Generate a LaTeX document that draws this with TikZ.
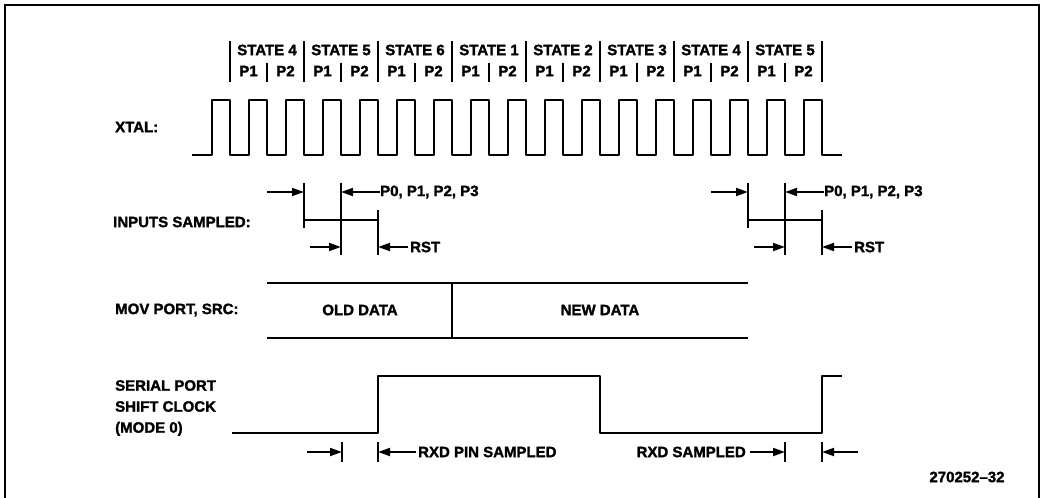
\documentclass[tikz,border=0pt]{standalone}
\usepackage{fontspec}
\setmainfont{Liberation Sans}
\newfontfamily\heavyfont{Liberation Sans}[BoldFeatures={FakeBold=1.6}]
\usepackage{tikz}
\usetikzlibrary{arrows.meta, positioning}

\begin{document}
\begin{tikzpicture}[
    x=1pt, y=-1pt,
    lbl/.style={font=\heavyfont\fontsize{15}{21}\selectfont\bfseries, inner sep=0pt},
    sig/.style={line width=2.8pt, line join=round},
    tick/.style={line width=1.6pt},
    darr/.style={-{Triangle[length=12pt,width=8pt]}, line width=1.8pt}
]
\useasboundingbox (0,0) rectangle (1042,498);
\draw[line width=2.2pt] (5,498) -- (5,5) -- (1039,5) -- (1039,498);

% state / phase header
\foreach \s [count=\k from 0] in {4,5,6,1,2,3,4,5}{
    \node[lbl] (S\k) at ({267+74*\k},50) {STATE \s};
    \node[lbl] (PA\k) at ({248.5+74*\k},71) {P1};
    \node[lbl] (PB\k) at ({285.5+74*\k},71) {P2};
    \draw[tick] ({230+74*\k},41) -- ({230+74*\k},82);
    \draw[tick] ({267+74*\k},63) -- ({267+74*\k},82);
}
\draw[tick] (822,41) -- (822,82);

\draw[sig] (192,155) \foreach \i in {0,...,16}{
    -- ({212+37*\i},155) -- ({212+37*\i},100) -- ({230+37*\i},100) -- ({230+37*\i},155)
} -- (842,155);

\node[lbl, anchor=west] (xtal) at (115,127) {XTAL:};
\node[lbl, anchor=west] (insmp) at (113,222) {INPUTS SAMPLED:};
\node[lbl, anchor=west] (movsrc) at (115,310) {MOV PORT, SRC:};
\node[lbl, anchor=west, align=left] (spclk) at (115,408) {SERIAL PORT\\SHIFT CLOCK\\(MODE 0)};

% sampling windows
\foreach \x/\g in {304/1,748/2}{
    \draw[tick] (\x,183) -- (\x,228);
    \draw[tick] (\x+37,183) -- (\x+37,255);
    \draw[tick] (\x+74,210) -- (\x+74,255);
    \draw[sig] (\x,220) -- (\x+74,220);
    \node[lbl, anchor=west] (pp\g) at (\x+76,192) {P0, P1, P2, P3};
    \node[lbl, anchor=west] (rst\g) at (\x+106,247) {RST};
    \draw[darr] (pp\g.west) -- (\x+37,192);
    \draw[darr] ([xshift=-2pt]rst\g.west) -- (\x+74,247);
    \draw[darr] (\x-37,192) -- (\x,192);
    \draw[darr] (\x+6,247) -- (\x+37,247);
}

\draw[sig] (267,283) -- (748,283);
\draw[sig] (267,338) -- (748,338);
\draw[sig] (452,283) -- (452,338);
\node[lbl] (olddat) at (360,310) {OLD DATA};
\node[lbl] (newdat) at (600,310) {NEW DATA};

\draw[sig] (232,433) -- (378,433) -- (378,376) -- (600,376) -- (600,433)
    -- (822,433) -- (822,376) -- (842,376);

\foreach \x in {342,378,785,822}{
    \draw[tick] (\x,442) -- (\x,462);
}
\node[lbl, anchor=west] (rxdpin) at (418,452) {RXD PIN SAMPLED};
\node[lbl, anchor=east] (rxdsmp) at (746,452) {RXD SAMPLED};
\draw[darr] (307,452) -- (342,452);
\draw[darr] ([xshift=-2pt]rxdpin.west) -- (378,452);
\draw[darr] ([xshift=4pt]rxdsmp.east) -- (785,452);
\draw[darr] (858,452) -- (822,452);

\node[lbl] (figno) at (967,477) {270252–32};
\end{tikzpicture}
\end{document}
